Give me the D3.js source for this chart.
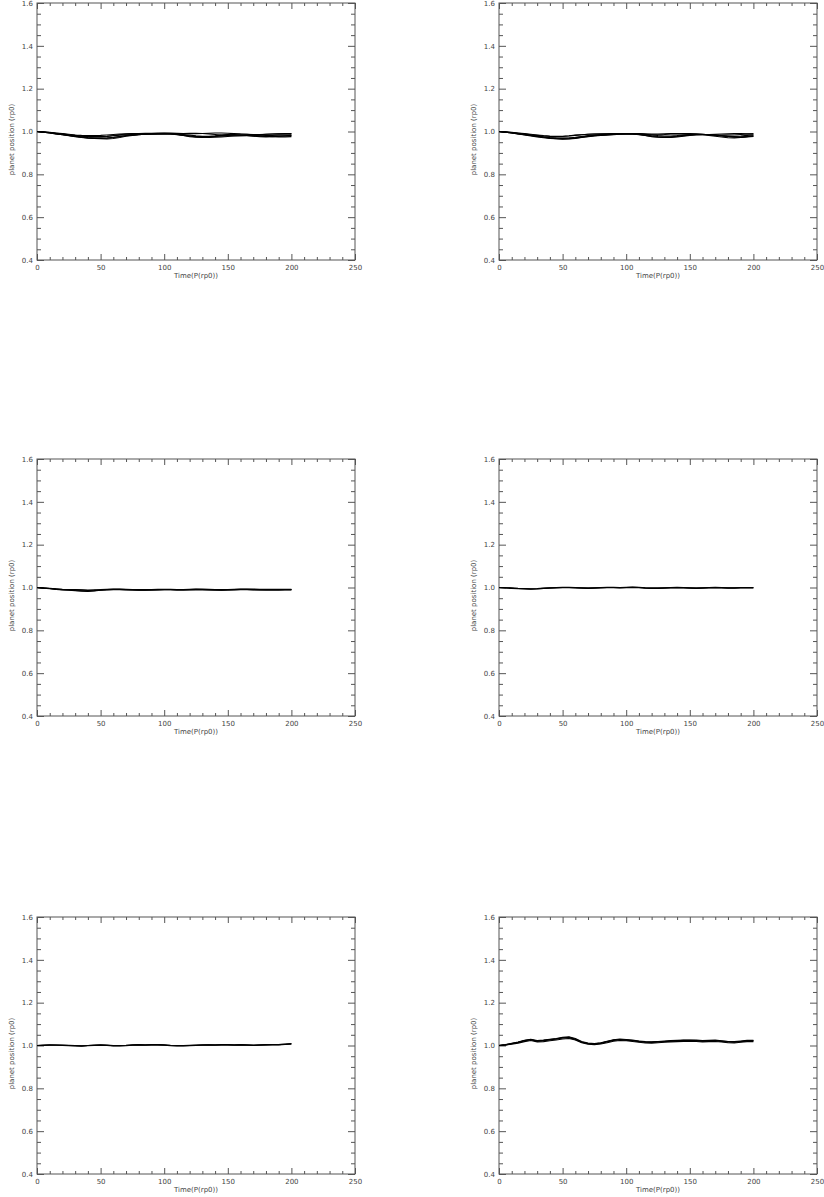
<!DOCTYPE html>
<html>
<head>
<meta charset="utf-8">
<script src="https://d3js.org/d3.v7.min.js"></script>
<style>
    body { margin: 0; background: #ffffff; }
    text { font-family: "DejaVu Sans", sans-serif; fill: #444444; }
    .tick text { font-size: 7px; }
    .tick line { stroke: #555555; stroke-width: 1px; }
    .domain { display: none; }
    text.axis-label { font-size: 7px; }
</style>
</head>
<body>
<div id="container"></div>
<script>
    // time samples (P(rp0)), one value every 5 units
    const times = d3.range(0, 201, 5);

    // planet position (rp0), panel 1 (top left)
    const p1a = [1.000,0.997,0.993,0.989,0.985,0.981,0.977,0.973,0.970,0.968,0.966,0.965,0.967,0.972,0.978,0.982,0.985,0.987,0.989,0.991,0.992,0.990,0.986,0.981,0.976,0.973,0.972,0.974,0.978,0.982,0.985,0.986,0.984,0.981,0.978,0.976,0.975,0.976,0.978,0.980,0.982];
    const p1b = [1.000,0.998,0.995,0.991,0.988,0.984,0.981,0.978,0.976,0.975,0.975,0.977,0.980,0.983,0.985,0.986,0.987,0.988,0.989,0.990,0.991,0.991,0.989,0.986,0.983,0.980,0.978,0.978,0.980,0.983,0.986,0.988,0.988,0.987,0.985,0.983,0.982,0.982,0.983,0.984,0.985];
    const p1c = [1.000,0.998,0.996,0.993,0.990,0.987,0.984,0.982,0.981,0.981,0.982,0.984,0.986,0.988,0.989,0.990,0.991,0.992,0.992,0.993,0.993,0.993,0.992,0.991,0.990,0.990,0.991,0.992,0.993,0.993,0.992,0.990,0.988,0.987,0.986,0.986,0.987,0.988,0.989,0.990,0.991];
    const p1d = [1.000,0.997,0.994,0.990,0.986,0.982,0.978,0.975,0.972,0.970,0.969,0.970,0.973,0.977,0.981,0.984,0.986,0.987,0.988,0.989,0.990,0.989,0.987,0.983,0.979,0.975,0.973,0.972,0.973,0.975,0.977,0.979,0.980,0.980,0.979,0.978,0.977,0.977,0.978,0.979,0.980];
    const p1e = [1.000,0.998,0.995,0.992,0.989,0.985,0.982,0.979,0.977,0.976,0.976,0.978,0.981,0.985,0.988,0.990,0.991,0.990,0.989,0.988,0.988,0.989,0.990,0.991,0.992,0.992,0.991,0.989,0.986,0.983,0.981,0.980,0.980,0.981,0.983,0.985,0.987,0.988,0.989,0.989,0.990];
    const p1f = [1.000,0.997,0.993,0.989,0.985,0.980,0.976,0.972,0.969,0.967,0.967,0.969,0.972,0.976,0.980,0.983,0.985,0.987,0.988,0.989,0.990,0.988,0.985,0.982,0.979,0.977,0.976,0.976,0.977,0.979,0.981,0.983,0.984,0.984,0.982,0.980,0.978,0.976,0.975,0.975,0.976];

    // panel 2 (top right)
    const p2a = [1.000,0.997,0.994,0.991,0.987,0.983,0.979,0.975,0.972,0.970,0.969,0.970,0.973,0.977,0.981,0.984,0.986,0.987,0.988,0.989,0.990,0.989,0.986,0.981,0.976,0.973,0.972,0.974,0.978,0.982,0.985,0.986,0.985,0.982,0.978,0.974,0.971,0.970,0.972,0.976,0.980];
    const p2b = [1.000,0.997,0.993,0.989,0.985,0.981,0.977,0.973,0.969,0.966,0.964,0.965,0.968,0.972,0.976,0.979,0.981,0.983,0.985,0.987,0.989,0.990,0.989,0.987,0.984,0.981,0.979,0.979,0.981,0.984,0.986,0.987,0.987,0.985,0.982,0.979,0.977,0.977,0.979,0.982,0.984];
    const p2c = [1.000,0.998,0.995,0.992,0.989,0.985,0.982,0.979,0.977,0.976,0.977,0.979,0.982,0.985,0.987,0.988,0.989,0.989,0.990,0.990,0.991,0.991,0.990,0.989,0.988,0.988,0.989,0.990,0.990,0.989,0.988,0.987,0.986,0.986,0.987,0.988,0.989,0.990,0.990,0.989,0.989];
    const p2d = [1.000,0.997,0.994,0.990,0.986,0.982,0.978,0.974,0.971,0.969,0.968,0.969,0.971,0.975,0.979,0.982,0.984,0.986,0.987,0.988,0.989,0.988,0.985,0.981,0.977,0.974,0.972,0.972,0.974,0.978,0.982,0.985,0.986,0.985,0.983,0.980,0.977,0.975,0.975,0.977,0.979];
    const p2e = [1.000,0.998,0.996,0.993,0.990,0.987,0.984,0.981,0.979,0.978,0.978,0.980,0.983,0.985,0.987,0.988,0.988,0.989,0.990,0.991,0.991,0.990,0.988,0.986,0.985,0.985,0.986,0.988,0.989,0.990,0.990,0.989,0.987,0.985,0.984,0.983,0.983,0.984,0.986,0.988,0.989];
    const p2f = [1.000,0.997,0.993,0.988,0.984,0.979,0.975,0.971,0.968,0.966,0.965,0.966,0.969,0.973,0.977,0.980,0.983,0.985,0.986,0.988,0.989,0.989,0.987,0.984,0.980,0.977,0.975,0.975,0.977,0.980,0.983,0.985,0.986,0.986,0.984,0.980,0.976,0.973,0.972,0.974,0.977];

    // panel 3 (middle left)
    const p3a = [1.000,0.998,0.995,0.993,0.991,0.990,0.989,0.988,0.986,0.987,0.989,0.991,0.992,0.992,0.991,0.990,0.989,0.988,0.989,0.990,0.991,0.991,0.990,0.990,0.991,0.992,0.991,0.990,0.989,0.989,0.990,0.991,0.992,0.992,0.991,0.991,0.990,0.990,0.990,0.991,0.991];
    const p3b = [1.000,0.997,0.994,0.991,0.989,0.987,0.985,0.983,0.982,0.984,0.987,0.989,0.990,0.990,0.989,0.988,0.987,0.987,0.988,0.989,0.990,0.990,0.989,0.988,0.988,0.989,0.990,0.989,0.988,0.987,0.988,0.989,0.990,0.990,0.989,0.988,0.988,0.988,0.988,0.989,0.989];
    const p3c = [1.000,0.998,0.996,0.994,0.992,0.991,0.990,0.989,0.988,0.989,0.990,0.992,0.993,0.993,0.992,0.991,0.990,0.990,0.991,0.992,0.992,0.992,0.991,0.991,0.992,0.993,0.993,0.992,0.991,0.990,0.991,0.992,0.993,0.993,0.993,0.992,0.992,0.992,0.992,0.992,0.992];
    const p3d = [1.000,0.997,0.995,0.992,0.990,0.988,0.986,0.985,0.984,0.985,0.988,0.990,0.991,0.991,0.990,0.989,0.988,0.988,0.989,0.990,0.991,0.990,0.989,0.989,0.990,0.991,0.991,0.990,0.989,0.988,0.989,0.990,0.991,0.991,0.990,0.989,0.989,0.989,0.989,0.990,0.990];

    // panel 4 (middle right)
    const p4a = [1.000,0.999,0.997,0.995,0.994,0.993,0.994,0.996,0.998,0.999,1.000,1.000,0.999,0.998,0.997,0.998,0.999,1.000,1.000,0.999,1.000,1.001,1.000,0.998,0.997,0.997,0.998,0.999,1.000,0.999,0.998,0.997,0.998,0.999,1.000,0.999,0.998,0.998,0.999,0.999,0.999];
    const p4b = [1.000,0.998,0.996,0.994,0.993,0.992,0.993,0.995,0.997,0.998,0.999,0.999,0.998,0.997,0.996,0.997,0.998,0.999,0.999,0.998,0.999,1.000,0.999,0.997,0.996,0.996,0.997,0.998,0.999,0.998,0.997,0.996,0.997,0.998,0.999,0.998,0.997,0.997,0.998,0.998,0.998];
    const p4c = [1.000,0.999,0.998,0.996,0.995,0.994,0.995,0.997,0.999,1.000,1.001,1.001,1.000,0.999,0.998,0.999,1.000,1.001,1.001,1.000,1.001,1.002,1.001,0.999,0.998,0.998,0.999,1.000,1.001,1.000,0.999,0.998,0.999,1.000,1.001,1.000,0.999,0.999,1.000,1.000,1.000];

    // panel 5 (bottom left)
    const p5a = [1.000,1.001,1.002,1.002,1.001,1.000,0.999,0.998,1.000,1.001,1.002,1.001,0.999,0.999,1.000,1.002,1.003,1.002,1.003,1.004,1.002,1.000,0.999,0.999,1.000,1.001,1.002,1.003,1.002,1.003,1.003,1.002,1.003,1.002,1.001,1.002,1.003,1.004,1.004,1.006,1.008];
    const p5b = [1.000,1.000,1.001,1.001,1.000,0.999,0.998,0.997,0.999,1.000,1.001,1.000,0.998,0.998,0.999,1.001,1.002,1.001,1.002,1.003,1.001,0.999,0.998,0.998,0.999,1.000,1.001,1.002,1.001,1.002,1.002,1.001,1.002,1.001,1.000,1.001,1.002,1.003,1.003,1.005,1.006];
    const p5c = [1.000,1.002,1.003,1.002,1.002,1.001,1.000,0.999,1.000,1.002,1.003,1.002,1.000,1.000,1.001,1.003,1.004,1.003,1.004,1.004,1.003,1.001,1.000,1.000,1.001,1.002,1.003,1.003,1.003,1.004,1.004,1.003,1.004,1.003,1.002,1.003,1.004,1.005,1.005,1.007,1.009];

    // panel 6 (bottom right)
    const p6a = [1.000,1.003,1.008,1.014,1.022,1.027,1.020,1.022,1.026,1.030,1.035,1.038,1.030,1.016,1.008,1.006,1.010,1.017,1.024,1.027,1.025,1.022,1.018,1.015,1.014,1.016,1.018,1.020,1.021,1.022,1.023,1.022,1.020,1.021,1.022,1.019,1.016,1.015,1.018,1.021,1.021];
    const p6b = [1.000,1.004,1.010,1.016,1.024,1.029,1.023,1.025,1.029,1.033,1.038,1.041,1.033,1.019,1.011,1.009,1.013,1.020,1.027,1.030,1.028,1.025,1.021,1.018,1.017,1.019,1.021,1.023,1.024,1.025,1.026,1.025,1.023,1.024,1.025,1.022,1.019,1.018,1.021,1.024,1.024];
    const p6c = [1.000,1.002,1.006,1.011,1.018,1.023,1.017,1.018,1.022,1.026,1.030,1.033,1.026,1.013,1.006,1.004,1.007,1.013,1.020,1.023,1.022,1.019,1.015,1.012,1.011,1.013,1.015,1.017,1.018,1.019,1.020,1.019,1.017,1.018,1.019,1.016,1.013,1.012,1.015,1.018,1.018];
    const p6d = [1.000,1.003,1.009,1.015,1.023,1.028,1.021,1.024,1.028,1.031,1.036,1.036,1.028,1.015,1.009,1.008,1.012,1.019,1.025,1.028,1.026,1.023,1.020,1.017,1.016,1.018,1.019,1.021,1.022,1.024,1.024,1.023,1.021,1.022,1.023,1.021,1.018,1.017,1.019,1.022,1.023];

    const panelSeries = [
        [p1a, p1b, p1c, p1d, p1e, p1f],
        [p2a, p2b, p2c, p2d, p2e, p2f],
        [p3a, p3b, p3c, p3d],
        [p4a, p4b, p4c],
        [p5a, p5b, p5c],
        [p6a, p6b, p6c, p6d]
    ];

    // tick values
    const xMajor = [0, 50, 100, 150, 200, 250];
    const xMinor = d3.range(0, 251, 10).filter(v => v % 50 !== 0);
    const yMajor = [0.4, 0.6, 0.8, 1.0, 1.2, 1.4, 1.6];
    const yMinor = [0.45, 0.5, 0.55, 0.65, 0.7, 0.75, 0.85, 0.9, 0.95, 1.05, 1.1, 1.15, 1.25, 1.3, 1.35, 1.45, 1.5, 1.55];

    const xTitle = "Time(P(rp0))";
    const yTitle = "planet position (rp0)";

    // layout of the 3x2 grid
    const width = 318;
    const height = 257;
    const colX = [37, 499];
    const rowY = [3, 459, 917];

    const svg = d3.select("#container")
        .append("svg")
        .attr("width", 824)
        .attr("height", 1197);

    panelSeries.forEach((series, i) => {
        const g = svg.append("g")
            .attr("transform", "translate(" + colX[i % 2] + "," + rowY[Math.floor(i / 2)] + ")");

        const x = d3.scaleLinear().domain([0, 250]).range([0, width]);
        const y = d3.scaleLinear().domain([0.4, 1.6]).range([height, 0]);

        // bottom axis (ticks pointing inward)
        g.append("g")
            .attr("transform", "translate(0," + height + ")")
            .call(d3.axisBottom(x).tickValues(xMajor).tickSizeInner(-6).tickSizeOuter(0).tickPadding(5).tickFormat(d3.format("d")));
        g.append("g")
            .attr("transform", "translate(0," + height + ")")
            .call(d3.axisBottom(x).tickValues(xMinor).tickSizeInner(-3).tickSizeOuter(0).tickFormat(""));
        // top axis
        g.append("g")
            .call(d3.axisTop(x).tickValues(xMajor).tickSizeInner(-6).tickSizeOuter(0).tickFormat(""));
        g.append("g")
            .call(d3.axisTop(x).tickValues(xMinor).tickSizeInner(-3).tickSizeOuter(0).tickFormat(""));

        // left axis
        g.append("g")
            .call(d3.axisLeft(y).tickValues(yMajor).tickSizeInner(-7).tickSizeOuter(0).tickPadding(4).tickFormat(d3.format(".1f")));
        g.append("g")
            .call(d3.axisLeft(y).tickValues(yMinor).tickSizeInner(-4).tickSizeOuter(0).tickFormat(""));
        // right axis
        g.append("g")
            .attr("transform", "translate(" + width + ",0)")
            .call(d3.axisRight(y).tickValues(yMajor).tickSizeInner(-7).tickSizeOuter(0).tickFormat(""));
        g.append("g")
            .attr("transform", "translate(" + width + ",0)")
            .call(d3.axisRight(y).tickValues(yMinor).tickSizeInner(-4).tickSizeOuter(0).tickFormat(""));

        // frame
        g.append("rect")
            .attr("x", 0)
            .attr("y", 0)
            .attr("width", width)
            .attr("height", height)
            .attr("fill", "none")
            .attr("stroke", "#555555")
            .attr("stroke-width", 1);

        // the runs
        const line = d3.line()
            .x((d, k) => x(times[k]))
            .y(d => y(d));

        g.selectAll(".run")
            .data(series)
            .enter()
            .append("path")
            .attr("class", "run")
            .attr("d", line)
            .attr("fill", "none")
            .attr("stroke", "#000000")
            .attr("stroke-width", 1.1);

        // axis titles
        g.append("text")
            .attr("class", "axis-label")
            .attr("x", width / 2)
            .attr("y", height + 18)
            .attr("text-anchor", "middle")
            .text(xTitle);

        g.append("text")
            .attr("class", "axis-label")
            .attr("transform", "translate(-23," + (height / 2 + 8) + ")rotate(-90)")
            .attr("text-anchor", "middle")
            .text(yTitle);
    });
</script>
</body>
</html>
